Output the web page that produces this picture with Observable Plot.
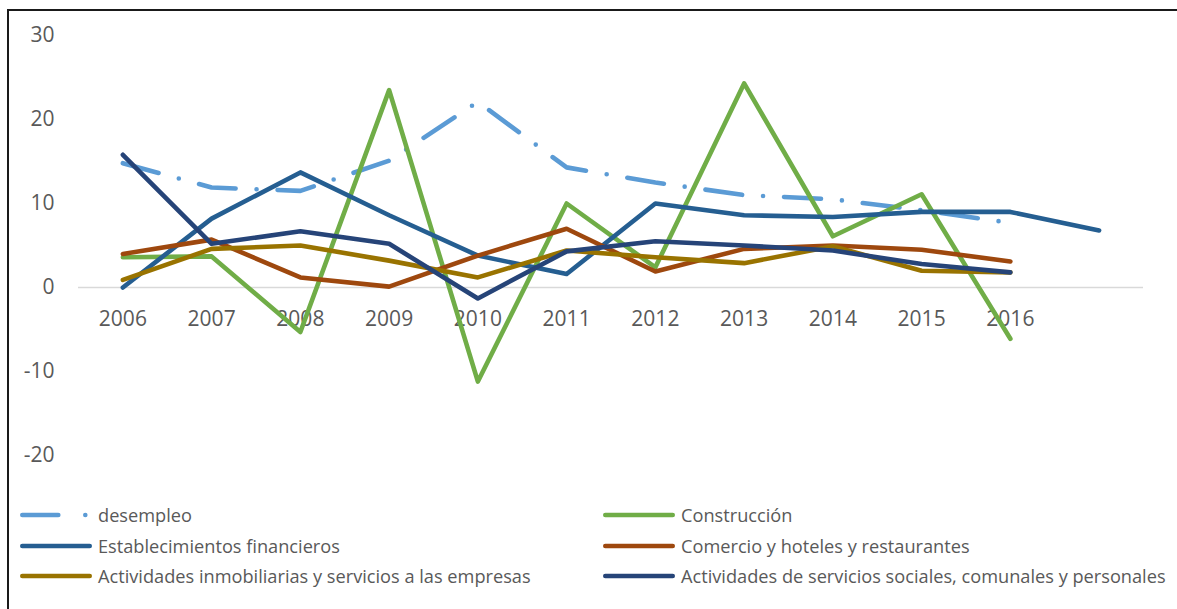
<!DOCTYPE html>
<html>
<head>
<meta charset="utf-8">
<script src="https://cdn.jsdelivr.net/npm/d3@7"></script>
<script src="https://cdn.jsdelivr.net/npm/@observablehq/plot@0.6"></script>
<style>
  html, body { margin: 0; padding: 0; background: #fff; }
  #wrap { position: relative; width: 1177px; height: 609px; overflow: hidden; font-family: "Open Sans", sans-serif; color: #595959; }
  #chart { position: absolute; left: 0; top: 0; }
  .bl { position: absolute; left: 7px; top: 9px; width: 2px; height: 600px; background: #1a1a1a; }
  .bt { position: absolute; left: 7px; top: 9px; width: 1170px; height: 2px; background: #1a1a1a; }
  .leg { position: absolute; display: flex; align-items: center; font-size: 18.2px; white-space: nowrap; }
  .leg svg { display: block; margin-right: 5px; }
</style>
</head>
<body>
<div id="wrap">
  <div id="chart"></div>
  <div class="bl"></div>
  <div class="bt"></div>
  <div id="legend"></div>
</div>
<script>
const categories = ["2006","2007","2008","2009","2010","2011","2012","2013","2014","2015","2016",""];
const yTicks = [-20, -10, 0, 10, 20, 30];

const desempleo        = [14.8, 11.9, 11.5, 15.1, 22.1, 14.3, 12.5, 11.0, 10.5, 9.2, 7.7];
const construccion     = [3.6, 3.7, -5.3, 23.5, -11.2, 10.0, 2.4, 24.3, 6.1, 11.1, -6.1];
const establecimientos = [0.0, 8.2, 13.7, 8.6, 3.8, 1.6, 10.0, 8.6, 8.4, 9.0, 9.0, 6.8];
const comercio         = [4.0, 5.7, 1.2, 0.1, 3.8, 7.0, 1.9, 4.6, 5.0, 4.5, 3.1];
const inmobiliarias    = [0.9, 4.6, 5.0, 3.2, 1.2, 4.4, 3.6, 2.9, 4.9, 2.0, 1.8];
const sociales         = [15.8, 5.2, 6.7, 5.2, -1.3, 4.3, 5.5, 5.0, 4.4, 2.8, 1.8];

const seriesNames = [
  "desempleo",
  "Construcción",
  "Establecimientos financieros",
  "Comercio y hoteles y restaurantes",
  "Actividades inmobiliarias y servicios a las empresas",
  "Actividades de servicios sociales, comunales y personales"
];
const seriesValues = [desempleo, construccion, establecimientos, comercio, inmobiliarias, sociales];
const seriesColors = ["#5B9BD5", "#70AD47", "#255E91", "#9E480E", "#997300", "#264478"];
const dash = "37 21 0 21";

const toRows = vals => vals.map((v, i) => ({cat: categories[i], value: v}));

const lineMarks = seriesValues.map((vals, k) =>
  Plot.line(toRows(vals), {
    x: "cat", y: "value",
    stroke: seriesColors[k], strokeWidth: 4.6,
    strokeLinecap: "round", strokeLinejoin: "round",
    strokeDasharray: k === 0 ? dash : undefined,
    curve: "linear"
  })
);

const chart = Plot.plot({
  width: 1177,
  height: 490,
  marginLeft: 78,
  marginRight: 34,
  marginTop: 35,
  marginBottom: 35,
  style: {fontFamily: "Open Sans, sans-serif", fontSize: "21px", color: "#595959", background: "transparent"},
  x: {type: "point", domain: categories, padding: 0.5, round: false, axis: null},
  y: {domain: [-20, 30], axis: null},
  marks: [
    Plot.ruleY([0], {stroke: "#d9d9d9", strokeWidth: 1.5}),
    Plot.axisY(yTicks, {tickSize: 0, tickPadding: 24, fontSize: 21, fill: "#595959", label: null, tickFormat: d => String(d)}),
    Plot.text(categories, {x: d => d, y: () => 0, dy: 32, text: d => d, fill: "#595959", fontSize: 21}),
    ...lineMarks
  ]
});
document.getElementById("chart").appendChild(chart);

// legend
const legendPos = [
  {left: 17, top: 515}, {left: 600, top: 515},
  {left: 17, top: 546}, {left: 600, top: 546},
  {left: 17, top: 576}, {left: 600, top: 576}
];
const legend = document.getElementById("legend");
seriesNames.forEach((name, k) => {
  const div = document.createElement("div");
  div.className = "leg";
  div.style.left = legendPos[k].left + "px";
  div.style.top = (legendPos[k].top - 13) + "px";
  div.style.height = "26px";
  const sw = 76;
  const d = k === 0 ? `stroke-dasharray="36 27 0 27"` : "";
  div.innerHTML = `<svg width="${sw}" height="10"><line x1="5.3" y1="5" x2="72.7" y2="5" stroke="${seriesColors[k]}" stroke-width="4.6" stroke-linecap="round" ${d}/></svg><span>${name}</span>`;
  legend.appendChild(div);
});
</script>
</body>
</html>
